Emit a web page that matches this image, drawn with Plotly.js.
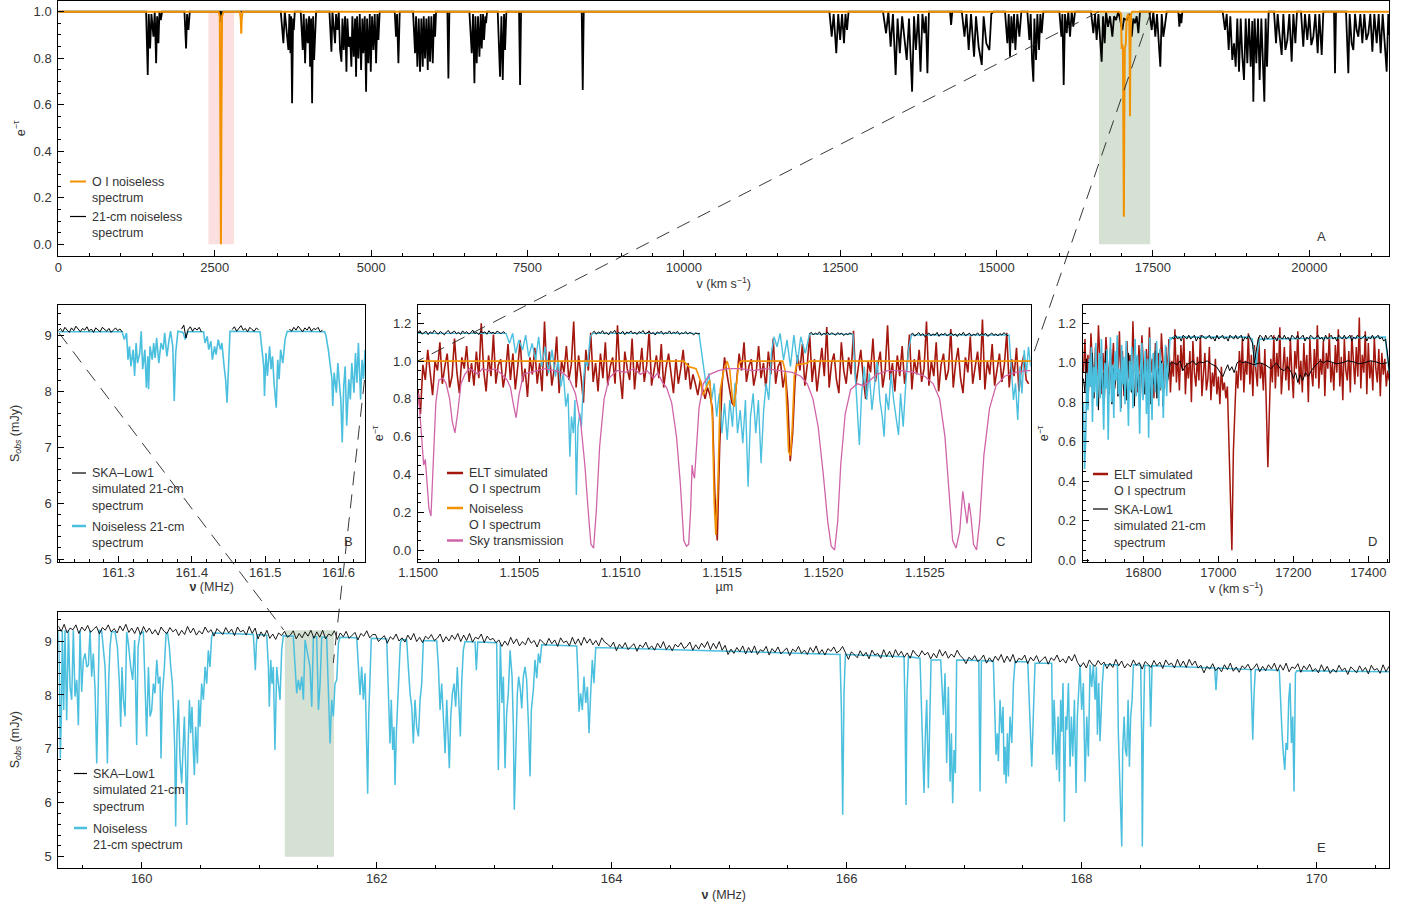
<!DOCTYPE html>
<html><head><meta charset="utf-8">
<script src="https://cdn.plot.ly/plotly-3.0.1.min.js"></script>
<style>html,body{margin:0;padding:0;background:#fff}#chart{width:1410px;height:911px}</style>
</head><body><div id="chart"></div>
<script>
// ---------------- Panel A : e^-tau vs velocity (km/s) ----------------
const a21cm = [[0,1.0],
[1402,1.0],[1428,0.728],[1444,0.99],[1466,0.842],[1487,0.99],[1519,0.892],[1540,1.0],[1562,0.778],[1578,0.98],[1599,0.864],[1615,1.0],[1636,0.964],[1658,1.0],
[2015,1.0],[2041,0.842],[2057,0.99],[2079,0.921],[2100,1.0],
[2585,1.0],[2601,0.955],[2617,1.0],
[3555,1.0],[3597,0.864],[3619,1.0],[3650,0.9],[3677,0.835],[3693,0.99],[3709,0.821],[3720,0.98],[3736,0.606],[3752,0.97],[3763,0.921],[3779,1.0],
[3874,1.0],[3906,0.835],[3922,0.99],[3944,0.778],[3965,0.97],[3986,0.864],[4008,0.98],[4024,0.763],[4040,0.97],[4056,0.606],[4072,0.98],[4088,0.792],[4104,0.907],[4120,1.0],
[4333,1.0],[4365,0.828],[4381,1.0],[4402,0.907],[4423,0.864],[4439,0.99],[4461,0.921],[4482,1.0],[4503,0.835],[4525,0.785],[4541,0.97],[4562,0.835],[4583,0.98],[4605,0.742],[4620,0.97],[4642,0.849],[4663,0.892],[4684,0.763],[4700,0.98],[4722,0.806],[4743,0.97],[4759,0.720],[4775,0.98],[4796,0.799],[4818,0.99],[4839,0.749],[4860,0.97],[4876,0.821],[4898,0.98],[4919,0.656],[4935,0.97],[4956,0.778],[4978,0.99],[4994,0.742],[5015,0.98],[5036,0.835],[5057,0.99],[5079,0.778],[5100,0.99],[5116,0.878],[5137,1.0],
[5377,1.0],[5398,0.892],[5414,0.99],[5436,0.778],[5457,1.0],
[5670,1.0],[5702,0.821],[5718,0.98],[5739,0.763],[5761,0.97],[5782,0.742],[5803,0.97],[5825,0.763],[5841,0.98],[5862,0.799],[5883,0.97],[5905,0.749],[5921,0.98],[5942,0.785],[5963,0.98],[5985,0.778],[6006,0.99],[6022,0.892],[6038,1.0],
[6219,1.0],[6235,0.713],[6251,1.0],
[6571,1.0],[6608,0.821],[6629,0.99],[6651,0.692],[6667,0.98],[6688,0.778],[6709,0.98],[6731,0.806],[6752,0.99],[6768,0.842],[6789,0.99],[6805,0.878],[6827,0.98],[6837,0.95],[6853,1.0],
[7024,1.0],[7061,0.720],[7083,0.98],[7104,0.706],[7125,0.99],[7141,0.835],[7162,1.0],
[7365,1.0],[7381,0.685],[7397,1.0],
[8367,1.0],[8383,0.663],[8399,1.0],
[12327,1.0],[12364,0.892],[12395,0.99],[12437,0.821],[12468,0.99],[12499,0.878],[12529,0.99],[12560,0.864],[12584,0.99],[12609,0.921],[12633,1.0],
[13184,1.0],[13233,0.907],[13270,1.0],[13306,0.849],[13343,0.99],[13386,0.728],[13417,0.97],[13453,0.821],[13490,0.98],[13527,0.878],[13563,0.792],[13600,0.97],[13649,0.656],[13680,0.98],[13710,0.835],[13747,0.99],[13784,0.742],[13814,0.99],[13845,0.907],[13869,0.98],[13894,0.735],[13918,1.0],
[14255,1.0],[14273,0.943],[14291,1.0],
[14444,1.0],[14487,0.892],[14518,0.99],[14554,0.835],[14591,0.99],[14640,0.806],[14671,0.98],[14713,0.849],[14763,0.771],[14793,0.98],[14836,0.864],[14885,0.835],[14916,0.99],[14950,1.0],
[15135,1.0],[15172,0.864],[15194,0.99],[15215,0.806],[15236,0.98],[15258,0.864],[15279,0.99],[15300,0.835],[15332,0.99],[15364,0.892],[15396,1.0],
[15492,1.0],[15524,0.878],[15545,0.99],[15567,0.792],[15588,0.699],[15604,0.97],[15631,0.792],[15652,0.99],[15679,0.835],[15700,0.99],[15721,0.907],[15748,1.0],
[16004,1.0],[16036,0.892],[16052,0.99],[16073,0.685],[16094,0.99],[16121,0.907],[16147,1.0],[16174,0.892],[16201,1.0],[16227,0.935],[16254,1.0],
[16510,1.0],[16547,0.907],[16574,0.99],[16600,0.878],[16627,0.99],[16654,0.864],[16680,0.785],[16702,0.98],[16728,0.864],[16750,1.0],[16782,0.935],[16814,0.98],[16851,0.892],[16878,0.98],[16910,0.964],
[16947,1.0],[16984,0.95],[17011,0.921],[17037,0.97],[17080,0.964],[17123,0.99],[17160,0.892],[17187,0.97],[17213,0.95],[17240,0.98],[17267,0.907],[17293,1.0],
[17442,1.0],[17480,0.921],[17506,1.0],[17538,0.892],[17565,0.99],[17597,0.849],[17618,0.763],[17640,0.99],[17666,0.892],[17693,0.943],[17720,1.0],
[17906,1.0],[17922,0.935],[17938,0.99],[17954,0.95],[17970,1.0],
[18615,1.0],[18652,0.921],[18679,0.99],[18711,0.835],[18737,0.98],[18769,0.792],[18796,0.864],[18823,0.763],[18849,0.97],[18876,0.742],[18903,0.97],[18929,0.806],[18956,0.706],[18983,0.97],[19009,0.778],[19036,0.97],[19063,0.763],[19089,0.96],[19105,0.613],[19126,0.97],[19153,0.778],[19180,0.97],[19206,0.706],[19233,0.97],[19254,0.806],[19281,0.613],[19302,0.97],[19324,0.763],[19350,1.0],
[19436,1.0],[19468,0.864],[19494,0.99],[19521,0.907],[19558,0.814],[19585,0.99],[19617,0.835],[19649,0.878],[19681,0.99],[19718,0.785],[19745,0.99],[19777,0.864],[19803,1.0],
[19867,1.0],[19904,0.849],[19931,0.99],[19968,0.878],[20000,0.99],[20032,0.856],[20064,0.892],[20096,0.99],[20134,0.821],[20160,0.99],[20198,0.814],[20224,1.0],
[20395,1.0],[20411,0.735],[20427,1.0],
[20587,1.0],[20624,0.735],[20645,0.99],[20677,0.864],[20704,0.835],[20731,0.99],[20757,0.921],[20784,0.892],[20816,0.99],[20848,0.864],[20880,0.99],[20912,0.878],[20944,0.907],[20976,0.99],[21008,0.828],[21040,0.99],[21077,0.864],[21109,0.99],[21141,0.821],[21173,0.99],[21205,0.878],[21237,0.742],[21263,0.99],[21279,0.9]];

const aOI = [[0,1.0],[2560,1.0],[2580,0.98],[2590,0.5],[2598,0.0],[2606,0.5],[2616,0.98],[2640,1.0],
[2900,1.0],[2915,0.97],[2923,0.905],[2931,0.97],[2945,1.0],
[16960,1.0],[16990,0.99],[17000,0.84],[17010,0.86],[17020,0.84],[17029,0.3],[17035,0.118],[17042,0.5],[17050,0.84],[17065,0.86],[17080,0.97],[17100,0.99],[17120,0.98],[17128,0.8],[17133,0.55],[17138,0.8],[17150,0.99],[17170,1.0],[21279,1.0]];

// ---------------- Panel B : S_obs (mJy) vs nu (MHz), zoom ----------------
const bSkaStep = 0.003;
const bSkaX0 = [161.218, 161.386, 161.455, 161.533];
const bSka1 = [9.09,9.13,9.07,9.15,9.10,9.06,9.14,9.09,9.17,9.11,9.07,9.13,9.10,9.16,9.08,9.12,9.06,9.14,9.10,9.07,9.15,9.11,9.08,9.13,9.06,9.10,9.14,9.09,9.12,9.07];
const bSka2 = [9.12,9.19,8.96,9.11,9.16,9.08,9.14,9.10,9.15,9.07];
const bSka3 = [9.11,9.16,9.08,9.14,9.18,9.10,9.13,9.07,9.15,9.11,9.08,9.14,9.10];
const bSka4 = [9.12,9.08,9.15,9.10,9.17,9.11,9.07,9.14,9.10,9.16,9.08,9.13,9.11,9.15,9.07,9.10];
const bCyan = [[161.218,9.07],[161.305,9.07],[161.308,8.93],[161.311,9.05],[161.313,8.57],[161.315,8.81],[161.317,8.45],[161.320,8.75],[161.322,8.28],[161.324,8.87],[161.326,8.51],[161.329,8.69],[161.331,9.08],[161.333,8.40],[161.336,8.75],[161.338,8.07],[161.340,8.63],[161.341,8.04],[161.343,8.81],[161.346,8.57],[161.348,8.87],[161.350,8.60],[161.352,8.96],[161.355,8.51],[161.358,8.87],[161.361,8.75],[161.363,9.05],[161.366,8.63],[161.369,8.93],[161.371,9.08],[161.374,8.81],[161.376,7.83],[161.378,8.69],[161.381,9.08],[161.388,9.06],[161.391,8.93],[161.394,9.07],
[161.416,9.07],[161.418,8.87],[161.421,8.99],[161.423,8.75],[161.426,8.90],[161.428,8.57],[161.431,8.81],[161.433,8.66],[161.436,8.93],[161.439,8.75],[161.441,8.87],[161.444,8.45],[161.446,8.22],[161.448,7.80],[161.450,8.57],[161.452,9.08],
[161.493,9.07],[161.496,8.75],[161.498,8.45],[161.499,7.92],[161.501,8.69],[161.503,8.28],[161.506,8.81],[161.508,8.40],[161.510,8.63],[161.512,8.16],[161.515,7.71],[161.517,8.57],[161.519,8.22],[161.521,8.75],[161.524,8.51],[161.527,8.93],[161.530,9.08],
[161.581,9.07],[161.583,8.99],[161.586,8.75],[161.589,8.45],[161.591,8.22],[161.592,7.74],[161.594,8.34],[161.597,7.98],[161.599,8.51],[161.601,8.16],[161.603,7.86],[161.605,7.09],[161.607,8.10],[161.609,8.45],[161.611,7.39],[161.614,8.22],[161.616,7.86],[161.618,8.51],[161.621,7.98],[161.623,8.69],[161.625,8.16],[161.627,8.87],[161.630,7.86],[161.632,8.57],[161.634,8.22],[161.636,8.75]];

// ---------------- Panel C : e^-tau vs wavelength (micron) ----------------
const cSkaStep = 0.00001;
const cSkaX0 = [1.15, 1.15086, 1.15193, 1.15243];
const cSka1 = [1.152,1.161,1.143,1.149,1.158,1.140,1.155,1.146,1.163,1.150,1.142,1.157,1.148,1.139,1.154,1.162,1.145,1.151,1.159,1.144,1.153,1.141,1.160,1.147,1.156,1.143,1.150,1.164,1.146,1.152,1.140,1.158,1.149,1.155,1.142,1.161,1.147,1.153,1.144,1.159,1.150,1.145,1.156,1.148];
const cSka2 = [1.150,1.158,1.142,1.155,1.147,1.161,1.144,1.152,1.139,1.157,1.149,1.163,1.143,1.151,1.146,1.158,1.140,1.154,1.148,1.160,1.145,1.153,1.141,1.156,1.150,1.162,1.143,1.149,1.157,1.144,1.152,1.138,1.155,1.147,1.159,1.142,1.151,1.146,1.160,1.144,1.153,1.148,1.157,1.141,1.150,1.145,1.156,1.143,1.152,1.147,1.139,1.149,1.144,1.146];
const cSka3 = [1.145,1.152,1.138,1.149,1.141,1.155,1.136,1.147,1.143,1.153,1.139,1.150,1.144,1.137,1.151,1.142,1.148,1.135,1.146,1.140,1.149,1.143];
const cSka4 = [1.140,1.148,1.132,1.143,1.151,1.135,1.146,1.129,1.141,1.149,1.134,1.144,1.137,1.152,1.131,1.145,1.139,1.147,1.133,1.142,1.150,1.136,1.144,1.130,1.146,1.138,1.153,1.134,1.141,1.148,1.132,1.143,1.137,1.150,1.135,1.145,1.139,1.147,1.131,1.142,1.149,1.136,1.144,1.133,1.146,1.138,1.151,1.140,1.134];
const cEltX0 = 1.15, cEltStep = 0.000012;
const cElt = [0.85,0.72,0.98,0.90,1.06,0.93,0.82,1.00,0.95,1.10,0.88,0.97,1.04,0.86,0.92,1.12,0.94,0.83,1.02,0.96,
1.08,0.89,0.99,0.87,1.05,0.91,1.20,0.95,0.84,1.03,0.92,1.14,0.88,0.98,1.01,0.86,0.94,1.09,0.90,1.04,
0.85,0.97,1.11,0.89,0.96,0.81,1.02,0.93,1.07,0.88,0.99,0.84,1.21,0.92,1.05,0.87,0.96,1.13,0.83,1.00,
0.94,1.08,0.90,0.98,1.21,0.86,1.03,0.92,0.78,1.06,0.95,1.15,0.89,0.99,0.84,1.04,0.91,1.10,0.87,0.97,
1.02,0.88,1.19,0.93,0.80,1.05,0.96,0.90,1.12,0.85,1.00,0.94,1.07,0.89,0.98,1.16,0.87,0.95,1.03,0.91,
1.09,0.86,0.97,1.04,0.92,0.83,1.01,0.88,0.96,1.06,0.90,0.99,0.85,0.93,0.88,0.82,0.90,0.85,0.80,0.86,
0.82,0.75,0.30,0.05,0.55,0.88,1.02,0.93,0.86,0.78,0.76,0.90,1.04,0.95,1.10,0.89,0.97,1.01,0.87,0.94,
1.08,0.91,0.99,0.85,1.05,0.93,1.12,0.88,0.97,1.00,0.86,0.94,0.78,0.47,0.62,0.90,1.03,0.95,1.09,0.87,
0.98,1.14,0.89,1.01,0.84,0.96,1.07,0.92,1.18,0.86,0.99,1.04,0.90,0.83,1.10,0.95,0.88,1.02,0.93,1.16,
0.87,0.97,1.06,0.91,0.80,1.00,0.94,1.12,0.89,0.98,1.05,0.86,0.95,1.19,0.90,0.99,0.84,1.03,0.92,1.08,
0.88,0.97,1.14,0.85,1.01,0.93,1.06,0.89,0.96,1.21,0.87,1.00,0.92,1.10,0.84,0.98,1.04,0.90,0.95,1.17,
0.86,0.99,1.07,0.91,0.83,1.02,0.94,1.13,0.88,0.97,1.05,0.90,1.22,0.85,1.00,0.93,1.09,0.87,0.96,1.04,
0.89,0.98,1.15,0.86,1.01,0.92,1.07,0.84,0.97,1.03,0.90,0.88];
const cCyan = [[1.150000,1.147],[1.150434,1.147],[1.150451,1.094],[1.150467,1.147],[1.150481,1.041],[1.150498,1.112],[1.150516,1.059],[1.150531,1.138],[1.150546,1.023],[1.150563,1.094],[1.150580,1.006],[1.150595,1.129],[1.150610,0.971],[1.150627,1.076],[1.150644,0.935],[1.150661,1.059],[1.150678,0.918],[1.150691,1.006],[1.150704,0.865],[1.150717,0.935],[1.150729,0.759],[1.150740,0.829],[1.150749,0.494],[1.150757,0.706],[1.150766,0.618],[1.150774,0.794],[1.150781,0.291],[1.150789,0.653],[1.150798,0.723],[1.150806,0.653],[1.150815,0.882],[1.150825,1.006],[1.150836,0.971],[1.150849,1.129],[1.150862,1.147],
[1.151386,1.147],[1.151397,1.059],[1.151409,0.971],[1.151422,0.865],[1.151435,0.935],[1.151448,0.794],[1.151461,0.882],[1.151473,0.706],[1.151486,0.829],[1.151499,0.618],[1.151512,0.776],[1.151525,0.582],[1.151538,0.794],[1.151551,0.653],[1.151563,0.882],[1.151576,0.618],[1.151589,0.741],[1.151602,0.565],[1.151615,0.794],[1.151628,0.335],[1.151640,0.706],[1.151653,0.829],[1.151666,0.618],[1.151679,0.794],[1.151692,0.459],[1.151705,0.741],[1.151717,0.882],[1.151730,0.794],[1.151743,1.041],[1.151756,1.129],[1.151771,1.076],[1.151786,1.147],[1.151803,1.006],[1.151820,1.112],[1.151837,0.971],[1.151854,1.138],[1.151871,0.988],[1.151888,1.129],[1.151910,1.041],[1.151931,1.143],
[1.152145,1.143],[1.152158,0.882],[1.152167,0.759],[1.152177,0.556],[1.152188,0.829],[1.152201,0.971],[1.152213,0.794],[1.152226,0.935],[1.152239,0.741],[1.152252,0.882],[1.152265,1.006],[1.152278,0.794],[1.152290,0.706],[1.152299,0.600],[1.152308,0.829],[1.152321,0.741],[1.152333,0.935],[1.152346,0.794],[1.152359,0.688],[1.152370,0.609],[1.152380,0.829],[1.152393,0.653],[1.152406,0.882],[1.152419,1.059],[1.152434,1.138],
[1.152915,1.138],[1.152926,0.971],[1.152937,0.794],[1.152947,0.882],[1.152958,0.688],[1.152969,0.971],[1.152979,0.829],[1.152990,1.059],[1.153001,0.935],[1.153011,1.076],[1.153022,0.971]];
const cOI = [[1.150000,1.0],[1.151311,1.0],[1.151337,0.97],[1.151371,0.96],[1.151392,0.90],[1.151405,0.82],[1.151422,0.86],[1.151439,0.90],[1.151452,0.70],[1.151461,0.25],[1.151469,0.08],[1.151478,0.30],[1.151491,0.85],[1.151508,0.95],[1.151525,1.0],[1.151538,0.95],[1.151551,0.80],[1.151559,0.76],[1.151568,0.85],[1.151581,0.98],[1.151593,1.0],[1.151799,1.0],[1.151811,0.95],[1.151820,0.75],[1.151828,0.52],[1.151837,0.50],[1.151846,0.65],[1.151856,0.92],[1.151867,0.98],[1.151921,0.99],[1.151931,1.0],[1.153022,1.0]];
const cSky = [[1.150002,0.83],[1.150017,0.62],[1.150028,0.45],[1.150036,0.48],[1.150045,0.35],[1.150054,0.22],[1.150064,0.18],[1.150075,0.45],[1.150088,0.78],[1.150103,0.90],[1.150124,0.91],[1.150139,0.88],[1.150156,0.80],[1.150169,0.68],[1.150182,0.62],[1.150195,0.72],[1.150212,0.88],[1.150231,0.93],[1.150253,0.96],[1.150274,0.95],[1.150295,0.93],[1.150317,0.96],[1.150349,0.95],[1.150381,0.96],[1.150413,0.93],[1.150439,0.90],[1.150456,0.86],[1.150469,0.78],[1.150484,0.70],[1.150498,0.82],[1.150520,0.93],[1.150552,0.94],[1.150584,0.95],[1.150627,0.96],[1.150670,0.95],[1.150712,0.94],[1.150744,0.91],[1.150776,0.83],[1.150802,0.68],[1.150823,0.45],[1.150840,0.20],[1.150853,0.03],[1.150866,0.01],[1.150879,0.20],[1.150896,0.55],[1.150918,0.80],[1.150943,0.91],[1.150980,0.95],[1.151022,0.94],[1.151065,0.96],[1.151097,0.93],[1.151129,0.95],[1.151162,0.91],[1.151183,0.94],[1.151204,0.89],[1.151226,0.86],[1.151251,0.78],[1.151275,0.60],[1.151294,0.35],[1.151311,0.05],[1.151324,0.02],[1.151335,0.03],[1.151345,0.22],[1.151352,0.45],[1.151358,0.40],[1.151364,0.38],[1.151371,0.50],[1.151386,0.75],[1.151407,0.88],[1.151439,0.93],[1.151482,0.95],[1.151525,0.96],[1.151589,0.96],[1.151653,0.95],[1.151717,0.96],[1.151781,0.95],[1.151846,0.94],[1.151888,0.92],[1.151920,0.88],[1.151948,0.80],[1.151974,0.65],[1.151999,0.40],[1.152021,0.15],[1.152038,0.02],[1.152055,0.00],[1.152070,0.15],[1.152085,0.45],[1.152107,0.72],[1.152134,0.85],[1.152167,0.88],[1.152199,0.87],[1.152231,0.90],[1.152263,0.93],[1.152317,0.95],[1.152381,0.95],[1.152445,0.94],[1.152499,0.92],[1.152541,0.88],[1.152573,0.80],[1.152599,0.60],[1.152620,0.30],[1.152637,0.05],[1.152654,0.01],[1.152672,0.10],[1.152687,0.31],[1.152697,0.22],[1.152708,0.14],[1.152718,0.25],[1.152727,0.18],[1.152740,0.03],[1.152755,0.00],[1.152770,0.15],[1.152791,0.50],[1.152819,0.75],[1.152851,0.87],[1.152894,0.92],[1.152947,0.94],[1.153001,0.95],[1.153022,0.95]];
const cTickVals = [1.1500, 1.1505, 1.1510, 1.1515, 1.1520, 1.1525];

// ---------------- Panel D : e^-tau vs velocity (km/s), zoom ----------------
const dEltX0 = 16640, dEltStep = 4;
const dElt = [0.95,1.12,0.88,1.04,0.91,1.15,0.99,0.86,1.08,0.93,1.19,0.97,0.84,1.05,0.92,1.13,1.01,0.89,1.07,0.95,
1.10,0.87,1.02,0.94,1.16,0.90,1.06,0.83,0.99,1.11,0.92,1.04,0.88,1.21,0.96,1.03,0.85,1.09,0.93,1.14,
0.98,0.86,1.07,0.91,1.18,0.95,1.02,0.82,1.10,0.94,1.05,0.89,1.15,0.97,0.87,1.08,0.92,1.12,0.85,1.01,
0.93,1.17,0.90,1.04,0.86,1.09,0.96,1.13,0.84,1.00,0.92,1.06,0.80,1.11,0.95,0.88,1.03,0.91,1.14,0.83,
0.97,1.05,0.86,0.92,1.08,0.81,0.95,0.88,1.02,0.84,0.93,0.79,0.98,0.86,0.90,0.82,0.88,0.60,0.25,0.05,
0.55,0.80,0.96,0.87,1.06,0.91,1.12,0.85,1.01,0.94,1.15,0.89,1.04,0.83,1.09,0.96,0.88,1.13,0.92,1.00,
0.86,1.07,0.80,0.47,0.75,1.02,0.90,1.14,0.87,1.05,0.93,1.18,0.84,0.99,1.08,0.91,1.03,0.86,1.12,0.95,
0.82,1.06,0.97,1.16,0.89,1.01,0.85,1.10,0.93,1.04,0.80,1.13,0.96,0.88,1.07,0.92,1.19,0.87,1.02,0.94,
1.11,0.83,1.05,0.97,1.15,0.90,1.00,0.86,1.09,0.95,1.17,0.88,1.03,0.81,1.12,0.96,0.91,1.06,0.85,1.14,
0.98,0.89,1.08,0.93,1.23,0.87,1.04,0.95,1.16,0.84,1.10,0.92,1.01,0.86,1.13,0.97,0.90,1.07,0.83,1.05,
0.94,1.02,0.88,0.96,0.91];
const dCyanX0 = 16640, dCyanStep = 3;
const dCyanNoisy = [0.80,0.46,0.62,0.95,0.76,1.02,0.88,1.08,0.70,0.98,0.85,1.10,0.78,0.93,1.05,0.82,1.12,0.90,0.66,1.00,
0.87,1.07,0.61,0.94,1.13,0.80,0.99,0.72,1.06,0.91,1.14,0.84,0.97,0.75,1.09,0.89,1.03,0.79,1.11,0.93,
0.68,1.01,0.86,1.08,0.77,0.96,1.12,0.83,1.04,0.92,0.64,0.99,1.10,0.81,0.95,1.06,0.74,1.02,0.62,1.13,
0.90,0.71,1.05,0.97,0.85,1.11,0.93,0.78,1.07,0.87,1.00,0.72,0.94,1.09,0.83,0.98,1.03,1.13];
const dCyanFlat = [[16871,1.13],[16874,1.12],[16880,1.13],[17080,1.13],[17090,1.12],[17096,1.05],[17100,0.98],[17104,1.05],[17110,1.12],[17445,1.13],[17450,1.05],[17456,0.95]];
const dSkaLeftX0 = 16640, dSkaLeftStep = 4;
const dSkaLeft = [0.92,0.85,1.02,0.78,0.96,0.88,1.05,0.82,0.99,0.90,0.76,1.03,0.87,0.95,0.80,1.06,0.91,0.84,1.00,0.79,
0.97,0.89,1.04,0.83,0.93,0.77,1.01,0.86,0.98,0.81,1.05,0.90,0.85,0.96,0.78,1.02,0.88,0.94,0.80,1.07,
0.92,0.84,0.99,0.87,1.03,0.79,0.95,0.89,1.06,0.82,0.97,0.86,1.01,0.78,0.93,1.04,0.90,0.95,1.00];
const dSkaHighX0 = 16876, dSkaHighStep = 5;
const dSkaHigh = [1.13,1.12,1.14,1.12,1.13,1.11,1.14,1.13,1.12,1.14,1.12,1.13,1.14,1.11,1.13,1.12,1.14,1.13,1.12,1.13,
1.14,1.12,1.13,1.11,1.14,1.12,1.13,1.14,1.12,1.13,1.11,1.14,1.13,1.12,1.14,1.12,1.13,1.14,1.11,1.13,
1.12,1.14,1.12,1.10,1.00,1.07,1.12,1.14,1.13,1.11,1.14,1.12,1.13,1.14,1.12,1.13,1.11,1.14,1.13,1.12,
1.14,1.12,1.13,1.11,1.14,1.13,1.12,1.14,1.12,1.13,1.14,1.11,1.13,1.12,1.14,1.13,1.12,1.13,1.14,1.12,
1.13,1.11,1.14,1.12,1.13,1.14,1.12,1.13,1.11,1.14,1.13,1.12,1.14,1.12,1.13,1.14,1.11,1.13,1.12,1.14,
1.13,1.12,1.13,1.14,1.11,1.13,1.12,1.14,1.12,1.13,1.14,1.12,1.13,1.11,1.12,1.05,0.95];
const dTau = [[16872,1.00],[16880,1.00],[16890,0.99],[16898,1.01],[16905,0.96],[16915,0.99],[16925,1.00],[16932,1.01],[16940,0.99],[16950,1.005],[16960,1.00],[16970,1.01],[16980,0.995],[16995,0.98],[17005,0.95],[17012,0.93],[17018,0.96],[17025,0.99],[17030,0.96],[17036,0.98],[17042,0.95],[17050,1.0],[17058,1.01],[17065,1.0],[17072,1.005],[17080,1.0],[17095,0.99],[17110,1.0],[17125,0.99],[17140,0.97],[17155,1.0],[17165,0.97],[17175,0.96],[17185,0.98],[17195,0.95],[17200,0.92],[17206,0.95],[17212,0.90],[17218,0.94],[17225,0.91],[17232,0.95],[17240,0.93],[17248,0.96],[17256,0.98],[17265,1.0],[17272,1.01],[17280,1.0],[17290,1.01],[17300,1.005],[17315,0.995],[17330,1.0],[17345,1.01],[17360,1.005],[17375,0.995],[17390,1.0],[17405,1.01],[17420,1.005],[17435,0.995],[17450,1.0]];

// ---------------- Panel E : S_obs (mJy) vs nu (MHz), full band ----------------
const eSkaX0 = 159.29, eSkaStep = 0.025;
const eSka = [9.28,9.18,9.31,9.15,9.24,9.21,9.30,9.14,9.26,9.19,9.29,9.16,9.22,9.27,9.13,9.25,9.20,9.30,9.17,9.23,9.15,9.28,9.19,9.31,9.16,9.24,9.14,9.26,
9.12,9.27,9.16,9.24,9.13,9.21,9.11,9.26,9.18,9.14,9.25,9.17,9.22,9.10,9.20,9.12,9.27,9.15,9.24,9.11,9.19,9.13,9.26,9.16,9.21,9.09,9.23,9.18,9.12,9.25,9.15,9.22,9.10,9.26,9.17,9.20,9.11,9.27,9.14,9.24,
9.04,9.17,9.08,9.20,9.05,9.13,9.03,9.15,9.10,9.18,9.07,9.11,9.19,9.04,9.14,9.06,9.17,9.09,9.20,9.05,9.17,9.07,9.20,9.04,9.13,9.10,9.19,9.03,9.15,9.08,9.18,9.05,9.11,9.16,9.02,9.14,9.09,9.19,9.06,9.12,
9.12,8.99,9.05,9.10,8.96,9.08,9.03,9.13,9.00,9.06,8.98,9.11,9.02,9.14,8.99,9.07,8.97,9.09,9.04,9.12,9.01,9.05,9.13,8.98,9.08,9.00,9.11,9.03,9.14,8.99,9.11,9.01,9.14,8.98,9.07,9.04,9.13,8.97,9.09,9.02,
9.05,8.97,9.02,8.90,9.00,8.92,9.07,8.95,9.04,8.91,8.99,8.93,9.06,8.96,9.01,8.89,9.03,8.98,8.92,9.05,8.95,9.02,8.90,9.06,8.97,9.00,8.91,9.07,8.94,9.04,8.92,9.07,8.96,9.04,8.93,9.01,8.91,9.06,8.98,8.94,
8.89,8.98,8.82,8.94,8.87,8.97,8.84,8.90,8.95,8.81,8.93,8.88,8.98,8.85,8.91,8.83,8.96,8.87,8.99,8.84,8.92,8.82,8.94,8.89,8.97,8.86,8.90,8.98,8.83,8.93,8.85,8.96,8.88,8.99,8.84,8.96,8.86,8.99,8.83,8.92,
8.75,8.85,8.77,8.88,8.80,8.91,8.76,8.88,8.78,8.91,8.75,8.84,8.81,8.90,8.74,8.86,8.79,8.89,8.76,8.82,8.87,8.73,8.85,8.80,8.90,8.77,8.83,8.75,8.88,8.79,8.91,8.76,8.84,8.74,8.86,8.81,8.89,8.78,8.82,8.90,
8.78,8.66,8.80,8.75,8.69,8.82,8.72,8.79,8.67,8.83,8.74,8.77,8.68,8.84,8.71,8.81,8.69,8.84,8.73,8.81,8.70,8.78,8.68,8.83,8.75,8.71,8.82,8.74,8.79,8.67,8.77,8.69,8.84,8.72,8.81,8.68,8.76,8.70,8.83,8.73,
8.68,8.58,8.70,8.65,8.73,8.62,8.66,8.74,8.59,8.69,8.61,8.72,8.64,8.75,8.60,8.72,8.62,8.75,8.59,8.68,8.65,8.74,8.58,8.70,8.63,8.73,8.60,8.66,8.71,8.57,8.69,8.64,8.74,8.61,8.67,8.59,8.72,8.63,8.75,8.60,
8.52,8.60,8.50,8.65,8.57,8.53,8.64,8.56,8.61,8.49,8.59,8.51,8.66,8.54,8.63,8.50,8.58,8.52,8.65,8.55,8.60,8.48,8.62,8.57,8.51,8.64,8.54,8.61,8.49,8.65,8.56,8.59,8.50,8.66,8.53,8.63,8.51,8.66,8.55,8.63,
8.50,8.55,8.41,8.53,8.48,8.58,8.45,8.51,8.43,8.56,8.47,8.59,8.44,8.52,8.42,8.54,8.49,8.57,8.46,8.50,8.58,8.43,8.53,8.45,8.56,8.48,8.59,8.44,8.56,8.46,8.59,8.43,8.52,8.49,8.58,8.42,8.54,8.47,8.57,8.44,
8.49,8.41,8.56,8.44,8.53,8.40,8.48,8.42,8.55,8.45,8.50,8.38,8.52,8.47,8.41,8.54,8.44,8.51,8.39,8.55,8.46,8.49,8.40,8.56,8.43,8.53];
const eCyan = [[159.290,9.20],[159.299,8.50],[159.307,6.82],[159.316,7.60],[159.324,9.20],[159.336,7.72],[159.347,9.20],[159.361,7.53],[159.376,9.20],[159.390,8.15],[159.404,7.91],[159.418,9.20],[159.432,7.97],[159.447,8.28],[159.461,7.44],[159.475,9.20],[159.489,8.06],[159.503,8.65],[159.518,8.77],[159.532,8.52],[159.546,8.55],[159.560,9.20],[159.574,8.34],[159.588,8.77],[159.603,8.09],[159.617,6.73],[159.628,7.91],[159.639,9.20],[159.659,9.19],[159.674,8.83],[159.688,8.52],[159.696,7.91],[159.708,6.73],[159.719,8.28],[159.730,8.89],[159.744,9.17],[159.773,9.17],[159.793,8.89],[159.810,8.21],[159.821,7.41],[159.832,8.52],[159.844,7.91],[159.858,7.60],[159.872,9.17],[159.886,8.96],[159.906,8.52],[159.923,8.28],[159.940,9.02],[159.957,7.07],[159.969,8.89],[159.986,9.14],
[160.014,9.17],[160.031,8.15],[160.042,7.23],[160.057,8.52],[160.071,7.60],[160.085,7.72],[160.099,8.21],[160.113,8.03],[160.128,8.65],[160.142,8.21],[160.156,8.34],[160.164,6.82],[160.176,8.03],[160.193,8.52],[160.207,9.14],[160.221,9.14],[160.235,8.89],[160.247,8.52],[160.261,8.21],[160.272,7.60],[160.281,6.98],[160.289,5.56],[160.300,7.29],[160.312,7.91],[160.326,6.79],[160.340,6.36],[160.352,7.16],[160.363,7.60],[160.374,6.67],[160.383,5.59],[160.394,6.98],[160.406,7.91],[160.417,7.29],[160.428,7.78],[160.440,6.92],[160.448,6.51],[160.459,7.41],[160.474,6.73],[160.485,7.91],[160.496,7.41],[160.510,8.21],[160.525,7.91],[160.539,8.52],[160.553,8.21],[160.567,8.83],[160.581,8.52],[160.595,9.08],[160.610,9.15],
[160.950,9.12],[160.959,8.83],[160.967,8.46],[160.976,8.96],[160.984,9.12],[161.064,9.11],[161.078,8.52],[161.086,7.78],[161.098,8.65],[161.109,8.21],[161.120,8.52],[161.134,6.98],[161.149,8.52],[161.163,8.21],[161.177,7.91],[161.191,8.83],[161.205,9.10],
[161.290,9.09],[161.305,8.52],[161.319,8.03],[161.333,8.28],[161.347,8.09],[161.362,8.34],[161.376,7.91],[161.390,9.02],[161.418,8.65],[161.432,8.52],[161.447,7.78],[161.461,9.08],[161.489,9.08],[161.504,7.72],[161.518,8.21],[161.532,9.07],[161.574,9.07],[161.589,8.21],[161.603,7.10],[161.617,7.91],[161.631,7.60],[161.645,8.21],[161.660,8.28],[161.674,8.96],[161.688,9.07],
[161.830,9.06],[161.844,8.52],[161.858,8.00],[161.872,8.52],[161.886,7.91],[161.901,8.40],[161.915,7.29],[161.923,6.17],[161.932,7.60],[161.943,8.40],[161.954,9.05],
[162.085,9.04],[162.093,8.52],[162.105,7.60],[162.113,7.10],[162.124,7.91],[162.136,6.98],[162.147,7.41],[162.156,6.33],[162.167,7.29],[162.179,7.91],[162.190,8.40],[162.201,8.96],[162.213,9.03],
[162.255,9.02],[162.269,8.52],[162.284,8.03],[162.298,7.78],[162.312,7.10],[162.326,7.91],[162.340,7.41],[162.355,7.23],[162.369,7.91],[162.383,8.21],[162.397,9.01],
[162.511,9.00],[162.525,8.52],[162.539,7.72],[162.553,8.21],[162.567,7.60],[162.582,6.92],[162.596,7.91],[162.610,7.16],[162.618,6.64],[162.630,7.60],[162.644,8.03],[162.658,8.21],[162.672,7.78],[162.686,8.52],[162.701,7.91],[162.712,7.23],[162.723,8.21],[162.737,8.83],[162.752,8.99],
[162.837,8.98],[162.848,8.46],[162.860,8.98],
[163.021,8.97],[163.035,6.61],[163.044,7.72],[163.052,8.96],[163.066,7.85],[163.078,8.34],[163.092,6.64],[163.106,7.66],[163.120,8.03],[163.135,8.83],[163.152,8.34],[163.163,7.41],[163.171,5.87],[163.183,6.92],[163.197,8.03],[163.208,8.34],[163.223,8.09],[163.234,7.75],[163.248,8.34],[163.262,8.52],[163.276,8.28],[163.291,7.48],[163.305,6.49],[163.316,7.72],[163.333,8.09],[163.347,8.65],[163.362,8.31],[163.376,8.77],[163.390,8.59],[163.404,8.93],
[163.702,8.91],[163.713,8.34],[163.722,7.69],[163.736,8.03],[163.750,7.72],[163.764,8.34],[163.779,7.85],[163.793,8.15],[163.807,7.29],[163.821,8.03],[163.835,8.65],[163.849,8.22],[163.864,8.88],
[165.943,8.75],[165.955,7.72],[165.966,5.78],[165.977,8.03],[165.989,8.75],
[166.488,8.71],[166.496,7.72],[166.505,5.96],[166.513,8.03],[166.525,8.71],
[166.624,8.68],[166.636,7.60],[166.647,6.67],[166.658,6.18],[166.670,7.29],[166.681,7.91],[166.695,6.27],[166.707,7.60],[166.718,8.65],
[166.800,8.65],[166.811,8.15],[166.823,7.63],[166.837,8.40],[166.851,6.74],[166.865,8.15],[166.880,6.39],[166.891,7.29],[166.902,5.99],[166.914,6.98],[166.925,6.55],[166.936,8.65],
[167.124,8.64],[167.135,6.21],[167.146,8.64],
[167.248,8.63],[167.260,7.91],[167.271,6.89],[167.282,7.29],[167.291,6.77],[167.305,7.91],[167.319,7.29],[167.331,7.78],[167.339,6.52],[167.348,7.04],[167.356,6.36],[167.368,7.29],[167.376,6.49],[167.390,7.60],[167.405,7.11],[167.419,8.22],[167.433,8.62],
[167.541,8.61],[167.552,8.03],[167.563,7.29],[167.575,6.67],[167.589,7.66],[167.603,8.59],
[167.745,8.59],[167.753,6.89],[167.765,7.91],[167.776,7.29],[167.787,6.61],[167.799,7.60],[167.810,6.39],[167.821,7.91],[167.830,7.32],[167.841,8.22],[167.853,5.65],[167.864,7.60],[167.873,7.35],[167.887,8.22],[167.901,6.67],[167.912,7.60],[167.924,6.86],[167.938,7.91],[167.952,6.18],[167.963,7.60],[167.972,7.91],[167.986,8.56],[168.000,7.72],[168.014,8.22],[168.029,6.39],[168.043,7.60],[168.057,6.86],[168.071,8.56],[168.085,8.15],[168.099,8.56],[168.114,7.91],[168.125,8.52],[168.134,7.26],[168.145,8.22],[168.156,7.14],[168.168,7.91],[168.176,8.22],[168.187,8.56],
[168.304,8.56],[168.312,7.29],[168.324,6.43],[168.332,6.06],[168.341,5.19],[168.349,6.98],[168.361,7.60],[168.372,6.98],[168.383,6.86],[168.395,7.91],[168.406,6.67],[168.417,7.60],[168.429,7.91],[168.440,8.56],
[168.502,8.55],[168.511,7.17],[168.516,5.19],[168.525,7.29],[168.536,8.55],[168.576,8.54],[168.587,7.41],[168.599,8.54],
[169.132,8.50],[169.143,8.09],[169.155,8.50],
[169.439,8.47],[169.447,7.91],[169.456,7.17],[169.467,8.03],[169.478,8.47],
[169.682,8.46],[169.694,7.78],[169.705,7.29],[169.716,6.92],[169.728,6.61],[169.739,7.11],[169.751,6.98],[169.762,7.91],[169.773,8.22],[169.785,7.11],[169.796,7.60],[169.807,6.21],[169.819,8.40],[169.830,8.45],
[170.618,8.43]];

// ---------------- colours ----------------
const COL = {black:'#000000', orange:'#F39200', cyan:'#4BBFDE', red:'#A3170E', pink:'#D064A8', text:'#333333'};

// ---------------- build traces ----------------
const traces = [];
function pairTrace(pairs, xa, ya, color, width) {
  traces.push({type:'scatter', mode:'lines', x:pairs.map(p=>p[0]), y:pairs.map(p=>p[1]),
    xaxis:xa, yaxis:ya, line:{color:color, width:width}, hoverinfo:'skip', showlegend:false});
}
function gridTrace(vals, x0, dx, xa, ya, color, width) {
  traces.push({type:'scatter', mode:'lines', y:vals, x0:x0, dx:dx,
    xaxis:xa, yaxis:ya, line:{color:color, width:width}, hoverinfo:'skip', showlegend:false});
}
// A
pairTrace(a21cm, 'x', 'y', COL.black, 1.8);
pairTrace(aOI, 'x', 'y', COL.orange, 2);
// B
pairTrace(bCyan, 'x2','y2', COL.cyan, 1.6);
[bSka1, bSka2, bSka3, bSka4].forEach((s,k)=>gridTrace(s, bSkaX0[k], bSkaStep, 'x2','y2', COL.black, 1));
// C
gridTrace(cElt, cEltX0, cEltStep, 'x3','y3', COL.red, 1.6);
pairTrace(cCyan, 'x3','y3', COL.cyan, 1.4);
[cSka1, cSka2, cSka3, cSka4].forEach((s,k)=>gridTrace(s, cSkaX0[k], cSkaStep, 'x3','y3', COL.black, 1));
pairTrace(cOI, 'x3','y3', COL.orange, 1.6);
pairTrace(cSky, 'x3','y3', COL.pink, 1.3);
// D
gridTrace(dElt, dEltX0, dEltStep, 'x4','y4', COL.red, 1.5);
gridTrace(dSkaLeft, dSkaLeftX0, dSkaLeftStep, 'x4','y4', COL.black, 1);
gridTrace(dCyanNoisy, dCyanX0, dCyanStep, 'x4','y4', COL.cyan, 1.6);
pairTrace(dCyanFlat, 'x4','y4', COL.cyan, 1.6);
gridTrace(dSkaHigh, dSkaHighX0, dSkaHighStep, 'x4','y4', COL.black, 1);
pairTrace(dTau, 'x4','y4', COL.black, 1);
// E
pairTrace(eCyan, 'x5','y5', COL.cyan, 1.5);
gridTrace(eSka, eSkaX0, eSkaStep, 'x5','y5', COL.black, 0.9);

// ---------------- layout helpers (pixel -> paper) ----------------
const W = 1410, H = 911;
const px = x => x / W;
const py = y => 1 - y / H;
const FONT = 'Liberation Sans, Arial, Helvetica, sans-serif';

function axis(o) {
  const base = {showline:true, linecolor:'#000', linewidth:1, mirror:true, ticks:'inside', ticklen:6,
    tickwidth:1, tickcolor:'#000', showgrid:false, zeroline:false, fixedrange:true,
    tickfont:{family:FONT, size:13, color:COL.text}, ticklabelstandoff:3};
  return Object.assign(base, o);
}
function minor(d, t0) { const m = {ticks:'inside', ticklen:3, tickcolor:'#000', dtick:d, showgrid:false}; if (t0 !== undefined) m.tick0 = t0; return m; }
function ttl(t, s) { return {text:t, font:{family:FONT, size:12.5, color:COL.text}, standoff:s}; }

const yTopRow = [py(562), py(305)];

const layout = {
  width: W, height: H, margin:{l:0, r:0, t:0, b:0}, paper_bgcolor:'#fff', plot_bgcolor:'rgba(0,0,0,0)',
  showlegend:false, font:{family:FONT, size:13, color:COL.text},
  xaxis: axis({domain:[px(58.3), px(1389.3)], anchor:'y', range:[-2, 21279], dtick:2500, tick0:0, tickformat:'d', minor:minor(500), ticklabelstandoff:-1,
    title:ttl('v (km s<sup>−1</sup>)', 1)}),
  yaxis: axis({domain:[py(256), py(0.7)], anchor:'x', range:[-0.0504, 1.047], dtick:0.2, tick0:0, tickformat:'.1f', minor:minor(0.05),
    title:ttl('e<sup>−τ</sup>', 5)}),
  xaxis2: axis({domain:[px(58.3), px(365)], anchor:'y2', range:[161.218, 161.636], dtick:0.1, tick0:161.3, tickformat:'.1f', minor:minor(0.02, 161.3), ticklabelstandoff:-2,
    title:ttl('<b>ν</b> (MHz)', 0)}),
  yaxis2: axis({domain:yTopRow, anchor:'x2', range:[4.947, 9.55], dtick:1, tick0:5, minor:minor(0.2),
    title:ttl('S<sub><i>obs</i></sub> (mJy)', 22)}),
  xaxis3: axis({domain:[px(417.8), px(1030.7)], anchor:'y3', range:[1.149999, 1.153022], tickmode:'array', tickvals:cTickVals, tickformat:'.4f',
    minor:{ticks:'inside', ticklen:3, tickcolor:'#000', dtick:0.0001, tick0:1.15, tickmode:'linear'}, ticklabelstandoff:-2,
    title:ttl('µm', 0)}),
  yaxis3: axis({domain:yTopRow, anchor:'x3', range:[-0.0635, 1.297], dtick:0.2, tick0:0, tickformat:'.1f', minor:minor(0.05),
    title:ttl('e<sup>−τ</sup>', 6)}),
  xaxis4: axis({domain:[px(1082.7), px(1389.3)], anchor:'y4', range:[16638, 17456], dtick:200, tick0:16800, tickformat:'d', minor:minor(50), ticklabelstandoff:-2,
    title:ttl('v (km s<sup>−1</sup>)', 0)}),
  yaxis4: axis({domain:yTopRow, anchor:'x4', range:[-0.0101, 1.293], dtick:0.2, tick0:0, tickformat:'.1f', minor:minor(0.05),
    title:ttl('e<sup>−τ</sup>', 6)}),
  xaxis5: axis({domain:[px(58.3), px(1389.3)], anchor:'y5', range:[159.290, 170.618], dtick:2, tick0:160, minor:minor(0.5), ticklabelstandoff:-1,
    title:ttl('<b>ν</b> (MHz)', 4)}),
  yaxis5: axis({domain:[py(867.7), py(611.7)], anchor:'x5', range:[4.796, 9.544], dtick:1, tick0:5, minor:minor(0.2),
    title:ttl('S<sub><i>obs</i></sub> (mJy)', 22)}),
  shapes: [], annotations: []
};

// highlighted ranges (data coords; ranges mirror the zoom panels' axis ranges)
layout.shapes.push({type:'rect', xref:'x', yref:'y', x0:2398, x1:2809, y0:0, y1:1.0, fillcolor:'#FCE0E0', line:{width:0}, layer:'below'});
layout.shapes.push({type:'rect', xref:'x', yref:'y', x0:layout.xaxis4.range[0], x1:layout.xaxis4.range[1], y0:0, y1:1.0, fillcolor:'#D5E1D2', line:{width:0}, layer:'below'});
layout.shapes.push({type:'rect', xref:'x5', yref:'y5', x0:layout.xaxis2.range[0], x1:layout.xaxis2.range[1], y0:5, y1:9.2, fillcolor:'#D5E1D2', line:{width:0}, layer:'below'});

// dashed connector lines (paper coords)
function dashLine(x0,y0,x1,y1){ layout.shapes.push({type:'line', xref:'paper', yref:'paper', x0:px(x0), y0:py(y0), x1:px(x1), y1:py(y1), line:{color:'#222', width:0.9, dash:'14px,9px'}}); }
dashLine(1151, 11.7, 1031, 361);
dashLine(1099, 11.7, 417.8, 361);
dashLine(59, 333, 283.7, 630);
dashLine(364.5, 380, 333.3, 663);

// legends (short line samples + text)
function legItem(x0, x1, yc, color, width, text) {
  layout.shapes.push({type:'line', xref:'paper', yref:'paper', x0:px(x0), x1:px(x1), y0:py(yc), y1:py(yc), line:{color:color, width:width}});
  layout.annotations.push({xref:'paper', yref:'paper', x:px(x1+4), y:py(yc-8.5), xanchor:'left', yanchor:'top', align:'left', showarrow:false,
    text:text, font:{family:FONT, size:12.5, color:COL.text}});
}
legItem(70, 86, 181.5, COL.orange, 2, 'O I noiseless<br>spectrum');
legItem(70, 86, 216.5, COL.black, 1.2, '21-cm noiseless<br>spectrum');
legItem(72, 86, 473, COL.black, 1.2, 'SKA–Low1<br>simulated 21-cm<br>spectrum');
legItem(72, 86, 526, COL.cyan, 2.5, 'Noiseless 21-cm<br>spectrum');
legItem(447, 463, 473, COL.red, 2.5, 'ELT simulated<br>O I spectrum');
legItem(447, 463, 508, COL.orange, 2.5, 'Noiseless<br>O I spectrum');
legItem(447, 463, 540.5, COL.pink, 2.5, 'Sky transmission');
legItem(1093, 1108, 474, COL.red, 2.5, 'ELT simulated<br>O I spectrum');
legItem(1093, 1108, 509, COL.black, 1.2, 'SKA-Low1<br>simulated 21-cm<br>spectrum');
legItem(74, 87, 773.5, COL.black, 1.2, 'SKA–Low1<br>simulated 21-cm<br>spectrum');
legItem(74, 87, 828, COL.cyan, 2.5, 'Noiseless<br>21-cm spectrum');

// panel letters
[['A',1321,236],['B',348,541.5],['C',1000,541],['D',1372,541],['E',1321.5,847.5]].forEach(p=>{
  layout.annotations.push({xref:'paper', yref:'paper', x:px(p[1]), y:py(p[2]), xanchor:'center', yanchor:'middle', showarrow:false,
    text:p[0], font:{family:FONT, size:13, color:COL.text}});
});

Plotly.newPlot('chart', traces, layout, {staticPlot:true, displayModeBar:false});
</script></body></html>
